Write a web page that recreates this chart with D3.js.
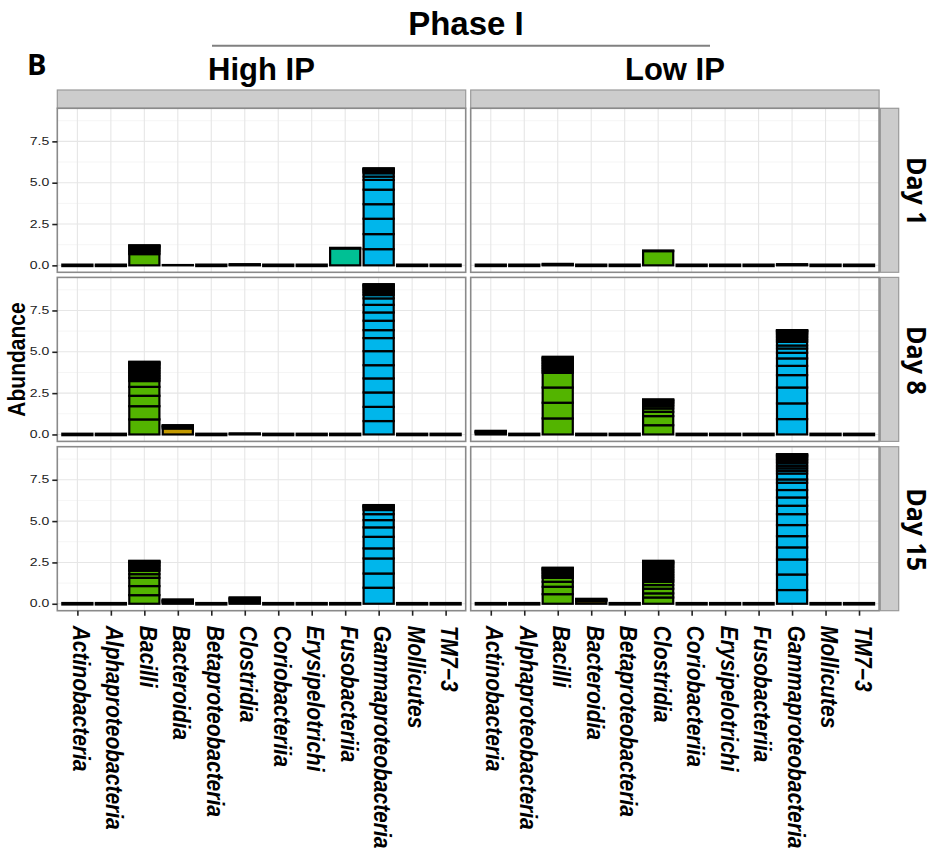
<!DOCTYPE html>
<html>
<head>
<meta charset="utf-8">
<script src="https://cdn.jsdelivr.net/npm/d3@7"></script>
<style>
  body { margin: 0; background: #fff; }
  svg { display: block; }
</style>
</head>
<body>
<div id="chart"></div>
<script>
// classes on the x axis and the phylum each one belongs to
const classes = ['Actinobacteria', 'Alphaproteobacteria', 'Bacilli', 'Bacteroidia', 'Betaproteobacteria',
  'Clostridia', 'Coriobacteriia', 'Erysipelotrichi', 'Fusobacteriia', 'Gammaproteobacteria', 'Mollicutes', 'TM7\u22123'];
const classPhylum = ['Actinobacteria', 'Proteobacteria', 'Firmicutes', 'Bacteroidetes', 'Proteobacteria',
  'Firmicutes', 'Actinobacteria', 'Firmicutes', 'Fusobacteria', 'Proteobacteria', 'Tenericutes', 'TM7'];
const phyla = ['Actinobacteria', 'Bacteroidetes', 'Firmicutes', 'Fusobacteria', 'Proteobacteria', 'Tenericutes', 'TM7'];
const phylumColors = ['#F8766D', '#C49A00', '#53B400', '#00C094', '#00B6EB', '#A58AFF', '#FB61D7'];

const groups = ['High IP', 'Low IP'];
const days = ['Day 1', 'Day 8', 'Day 15'];
const yTicks = [0, 2.5, 5, 7.5];
const yMinor = [1.25, 3.75, 6.25, 8.75];

// stacked OTU abundances per bar (bottom to top), classes not listed are 0
const highDay1 = {
  'Bacilli': [0.68, 0.1, 0.09, 0.08, 0.07, 0.06, 0.05, 0.04, 0.03, 0.01],
  'Bacteroidia': [0.02],
  'Clostridia': [0.04, 0.03],
  'Fusobacteriia': [1.02, 0.04],
  'Gammaproteobacteria': [0.98, 0.91, 0.93, 0.88, 0.88, 0.59, 0.2, 0.2, 0.08, 0.06, 0.05, 0.04, 0.03, 0.02, 0.02]
};
const highDay8 = {
  'Bacilli': [0.91, 0.8, 0.63, 0.54, 0.35, 0.1, 0.1, 0.1, 0.1, 0.1, 0.1, 0.1, 0.09, 0.09, 0.08, 0.07, 0.06, 0.05, 0.03],
  'Bacteroidia': [0.36, 0.08, 0.06, 0.04, 0.02],
  'Clostridia': [0.04, 0.02],
  'Gammaproteobacteria': [0.81, 0.86, 0.87, 0.85, 0.8, 0.85, 0.79, 0.48, 0.57, 0.5, 0.46, 0.39, 0.2, 0.1,
    0.1, 0.1, 0.09, 0.08, 0.07, 0.06, 0.04, 0.02]
};
const highDay15 = {
  'Bacilli': [0.52, 0.55, 0.5, 0.22, 0.21, 0.08, 0.1, 0.1, 0.09, 0.08, 0.07, 0.05, 0.03],
  'Bacteroidia': [0.06, 0.05, 0.05, 0.04, 0.03, 0.03],
  'Clostridia': [0.08, 0.07, 0.06, 0.06, 0.05, 0.04, 0.02],
  'Gammaproteobacteria': [0.97, 0.86, 0.91, 0.61, 0.7, 0.57, 0.44, 0.36, 0.25, 0.1, 0.06, 0.05, 0.04, 0.03, 0.02]
};
const lowDay1 = {
  'Bacilli': [0.05, 0.04],
  'Clostridia': [0.86, 0.04],
  'Gammaproteobacteria': [0.04, 0.03]
};
const lowDay8 = {
  'Actinobacteria': [0.08, 0.07, 0.05, 0.02],
  'Bacilli': [0.97, 0.95, 0.92, 0.89, 0.1, 0.1, 0.1, 0.1, 0.1, 0.1, 0.1, 0.09, 0.08, 0.05, 0.05],
  'Clostridia': [0.56, 0.55, 0.26, 0.2, 0.14, 0.1, 0.09, 0.08, 0.07, 0.05, 0.02],
  'Gammaproteobacteria': [0.93, 0.95, 0.96, 0.75, 0.56, 0.45, 0.34, 0.26, 0.18, 0.22,
    0.1, 0.1, 0.1, 0.09, 0.08, 0.07, 0.06, 0.05, 0.03, 0.02, 0.01]
};
const lowDay15 = {
  'Bacilli': [0.58, 0.45, 0.3, 0.24, 0.1, 0.1, 0.1, 0.09, 0.08, 0.07, 0.05, 0.02],
  'Bacteroidia': [0.15, 0.05, 0.04, 0.03, 0.03],
  'Clostridia': [0.38, 0.25, 0.28, 0.22, 0.2, 0.1, 0.1, 0.1, 0.1, 0.1, 0.1, 0.1, 0.1, 0.1,
    0.09, 0.08, 0.07, 0.06, 0.04, 0.03],
  'Gammaproteobacteria': [0.83, 0.94, 0.91, 0.73, 0.68, 0.67, 0.66, 0.51, 0.5, 0.45, 0.44, 0.2, 0.36, 0.16,
    0.15, 0.14, 0.16, 0.1, 0.1, 0.09, 0.08, 0.07, 0.06, 0.04, 0.02]
};
const facetData = [[highDay1, lowDay1], [highDay8, lowDay8], [highDay15, lowDay15]];

const svgWidth = 938;
const svgHeight = 855;
const colX = [57.3, 470.7];
const rowY = [108.3, 277.4, 446.7];
const pw = 408.4;
const ph = 164;

const svg = d3.select('#chart')
  .append('svg')
  .attr('width', svgWidth)
  .attr('height', svgHeight);

svg.append('rect').attr('width', svgWidth).attr('height', svgHeight).attr('fill', '#fff');

const xScale = d3.scalePoint()
  .domain(classes)
  .range([0, pw])
  .padding(0.6);
const barW = xScale.step() * 0.9;

const yScale = d3.scaleLinear()
  .domain([-0.42, 9.5])
  .range([ph, 0]);

const colorScale = d3.scaleOrdinal().domain(phyla).range(phylumColors);
const phylumOf = new Map(classes.map((c, i) => [c, classPhylum[i]]));

// titles
svg.append('text')
  .attr('x', 27).attr('y', 75)
  .style('font-family', '"Open Sans", sans-serif')
  .style('font-weight', 700)
  .style('font-size', '29px')
  .text('B');

svg.append('text')
  .attr('x', 466).attr('y', 35)
  .attr('text-anchor', 'middle')
  .style('font-family', '"Liberation Sans", Arial, sans-serif')
  .style('font-weight', 700)
  .style('font-size', '33px')
  .text('Phase I');

svg.append('line')
  .attr('x1', 212).attr('x2', 710)
  .attr('y1', 45.7).attr('y2', 45.7)
  .attr('stroke', '#808080')
  .attr('stroke-width', 2);

groups.forEach((g, c) => {
  svg.append('text')
    .attr('x', colX[c] + pw / 2).attr('y', 80)
    .attr('text-anchor', 'middle')
    .style('font-family', '"Liberation Sans", Arial, sans-serif')
    .style('font-weight', 700)
    .style('font-size', '31px')
    .text(g);

  // empty top strip
  svg.append('rect')
    .attr('x', colX[c]).attr('y', 90)
    .attr('width', pw).attr('height', rowY[0] - 90)
    .attr('fill', '#cccccc')
    .attr('stroke', '#9a9a9a')
    .attr('stroke-width', 1.2);
});

svg.append('text')
  .attr('transform', `translate(25,${(rowY[0] + rowY[2] + ph) / 2}) rotate(-90) scale(1,1.1)`)
  .attr('text-anchor', 'middle')
  .style('font-family', '"Liberation Sans", Arial, sans-serif')
  .style('font-weight', 700)
  .style('font-size', '21px')
  .text('Abundance');

days.forEach((day, r) => {
  // right strip
  svg.append('rect')
    .attr('x', colX[1] + pw + 1.3).attr('y', rowY[r])
    .attr('width', 18.3).attr('height', ph)
    .attr('fill', '#cccccc')
    .attr('stroke', '#9a9a9a')
    .attr('stroke-width', 1.2);

  svg.append('text')
    .attr('transform', `translate(906.5,${rowY[r] + ph / 2 + 1}) rotate(90) scale(1,1.1)`)
    .attr('text-anchor', 'middle')
    .style('font-family', '"Open Sans", sans-serif')
    .style('font-weight', 700)
    .style('font-size', '25px')
    .text(day);

  groups.forEach((grp, c) => {
    const data = facetData[r][c];
    const panel = svg.append('g')
      .attr('transform', `translate(${colX[c]},${rowY[r]})`);

    panel.append('rect')
      .attr('width', pw).attr('height', ph)
      .attr('fill', '#fff');

    // grid
    panel.selectAll('.minor')
      .data(yMinor)
      .join('line')
      .attr('x1', 0).attr('x2', pw)
      .attr('y1', d => yScale(d)).attr('y2', d => yScale(d))
      .attr('stroke', '#f3f3f3')
      .attr('stroke-width', 0.8);
    panel.selectAll('.major')
      .data(yTicks)
      .join('line')
      .attr('x1', 0).attr('x2', pw)
      .attr('y1', d => yScale(d)).attr('y2', d => yScale(d))
      .attr('stroke', '#e6e6e6')
      .attr('stroke-width', 1.1);
    panel.selectAll('.vgrid')
      .data(classes)
      .join('line')
      .attr('x1', d => xScale(d)).attr('x2', d => xScale(d))
      .attr('y1', 0).attr('y2', ph)
      .attr('stroke', '#e6e6e6')
      .attr('stroke-width', 1.1);

    // stacked segments
    classes.forEach(cls => {
      const segs = data[cls] || [0];
      const fill = colorScale(phylumOf.get(cls));
      let base = 0;
      const rows = segs.map(v => {
        const s = { y0: base, y1: base + v };
        base += v;
        return s;
      });
      panel.append('g')
        .selectAll('rect')
        .data(rows)
        .join('rect')
        .attr('x', xScale(cls) - barW / 2)
        .attr('width', barW)
        .attr('y', d => yScale(d.y1) - (base === 0 ? 0.75 : 0))
        .attr('height', d => base === 0 ? 1.5 : Math.max(yScale(d.y0) - yScale(d.y1), 0.01))
        .attr('fill', fill)
        .attr('stroke', '#000')
        .attr('stroke-width', 2.2);
    });

    panel.append('rect')
      .attr('width', pw).attr('height', ph)
      .attr('fill', 'none')
      .attr('stroke', '#8a8a8a')
      .attr('stroke-width', 1.6);

    // y axis on left column
    if (c === 0) {
      const yAxis = panel.append('g')
        .call(d3.axisLeft(yScale).tickValues(yTicks).tickFormat(d3.format('.1f')).tickSize(5).tickPadding(3));
      yAxis.select('.domain').remove();
      yAxis.selectAll('.tick line').attr('stroke', '#222').attr('stroke-width', 1.6);
      yAxis.selectAll('.tick text')
        .attr('fill', '#222')
        .style('font-family', '"Liberation Sans", Arial, sans-serif')
        .style('font-size', '10px')
        .attr('textLength', 19.5)
        .attr('lengthAdjust', 'spacingAndGlyphs');
    }

    // x axis on bottom row
    if (r === days.length - 1) {
      const xAxis = panel.append('g')
        .attr('transform', `translate(0,${ph})`)
        .call(d3.axisBottom(xScale).tickSize(5).tickFormat(''));
      xAxis.select('.domain').remove();
      xAxis.selectAll('.tick line').attr('stroke', '#222').attr('stroke-width', 1.6);

      panel.selectAll('.xlab')
        .data(classes)
        .join('text')
        .attr('transform', d => `translate(${xScale(d) - 4.5},${ph + 15}) rotate(90) scale(1,1.12)`)
        .style('font-family', '"Liberation Sans", Arial, sans-serif')
        .style('font-weight', 700)
        .style('font-style', 'italic')
        .style('font-size', '21px')
        .text(d => d);
    }
  });
});
</script>
</body>
</html>
